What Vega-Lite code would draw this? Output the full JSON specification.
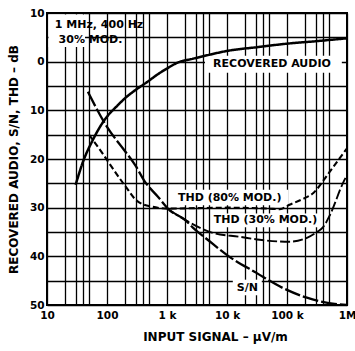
{
  "$schema": "https://vega.github.io/schema/vega-lite/v6.json",
  "width": 300,
  "height": 292,
  "autosize": {"type": "none"},
  "padding": {"left": 47, "top": 13, "right": 8, "bottom": 46},
  "background": "white",
  "config": {
    "view": {"stroke": "black", "strokeWidth": 2},
    "font": "DejaVu Sans"
  },
  "datasets": {
    "curves": [
      {"series": "Recovered audio", "signal": 30, "db": 25.3},
      {"series": "Recovered audio", "signal": 40, "db": 20.5},
      {"series": "Recovered audio", "signal": 58, "db": 16.1},
      {"series": "Recovered audio", "signal": 80, "db": 13.0},
      {"series": "Recovered audio", "signal": 100, "db": 11.3},
      {"series": "Recovered audio", "signal": 150, "db": 9.0},
      {"series": "Recovered audio", "signal": 200, "db": 7.5},
      {"series": "Recovered audio", "signal": 300, "db": 5.8},
      {"series": "Recovered audio", "signal": 464, "db": 4.2},
      {"series": "Recovered audio", "signal": 700, "db": 2.6},
      {"series": "Recovered audio", "signal": 1000, "db": 1.4},
      {"series": "Recovered audio", "signal": 1500, "db": 0.2},
      {"series": "Recovered audio", "signal": 2700, "db": -0.6},
      {"series": "Recovered audio", "signal": 5000, "db": -1.4},
      {"series": "Recovered audio", "signal": 10000, "db": -2.2},
      {"series": "Recovered audio", "signal": 33000, "db": -3.0},
      {"series": "Recovered audio", "signal": 100000, "db": -3.7},
      {"series": "Recovered audio", "signal": 300000, "db": -4.2},
      {"series": "Recovered audio", "signal": 1000000, "db": -4.8},
      {"series": "S/N", "signal": 48, "db": 6.2},
      {"series": "S/N", "signal": 100, "db": 13.4},
      {"series": "S/N", "signal": 200, "db": 18.4},
      {"series": "S/N", "signal": 293, "db": 21.2},
      {"series": "S/N", "signal": 430, "db": 24.7},
      {"series": "S/N", "signal": 700, "db": 27.7},
      {"series": "S/N", "signal": 1100, "db": 30.5},
      {"series": "S/N", "signal": 2000, "db": 32.5},
      {"series": "S/N", "signal": 2700, "db": 34.1},
      {"series": "S/N", "signal": 5000, "db": 36.8},
      {"series": "S/N", "signal": 11000, "db": 40.1},
      {"series": "S/N", "signal": 31000, "db": 43.4},
      {"series": "S/N", "signal": 85000, "db": 46.5},
      {"series": "S/N", "signal": 215000, "db": 48.5},
      {"series": "S/N", "signal": 500000, "db": 49.6},
      {"series": "S/N", "signal": 1000000, "db": 50},
      {"series": "THD (80% MOD.)", "signal": 50, "db": 15.0},
      {"series": "THD (80% MOD.)", "signal": 86, "db": 19.0},
      {"series": "THD (80% MOD.)", "signal": 112, "db": 21.1},
      {"series": "THD (80% MOD.)", "signal": 200, "db": 25.5},
      {"series": "THD (80% MOD.)", "signal": 316, "db": 28.6},
      {"series": "THD (80% MOD.)", "signal": 560, "db": 29.8},
      {"series": "THD (80% MOD.)", "signal": 1100, "db": 30.2},
      {"series": "THD (80% MOD.)", "signal": 3000, "db": 30.1},
      {"series": "THD (80% MOD.)", "signal": 11000, "db": 30.0},
      {"series": "THD (80% MOD.)", "signal": 50000, "db": 30.2},
      {"series": "THD (80% MOD.)", "signal": 76000, "db": 30.3},
      {"series": "THD (80% MOD.)", "signal": 110000, "db": 29.4},
      {"series": "THD (80% MOD.)", "signal": 200000, "db": 28.0},
      {"series": "THD (80% MOD.)", "signal": 275000, "db": 27.0},
      {"series": "THD (80% MOD.)", "signal": 400000, "db": 24.5},
      {"series": "THD (80% MOD.)", "signal": 600000, "db": 21.5},
      {"series": "THD (80% MOD.)", "signal": 1000000, "db": 17.8},
      {"series": "THD (30% MOD.)", "signal": 1100, "db": 30.5},
      {"series": "THD (30% MOD.)", "signal": 2000, "db": 32.5},
      {"series": "THD (30% MOD.)", "signal": 5800, "db": 35.2},
      {"series": "THD (30% MOD.)", "signal": 16600, "db": 36.0},
      {"series": "THD (30% MOD.)", "signal": 35000, "db": 36.6},
      {"series": "THD (30% MOD.)", "signal": 110000, "db": 37.0},
      {"series": "THD (30% MOD.)", "signal": 215000, "db": 36.2},
      {"series": "THD (30% MOD.)", "signal": 316000, "db": 35.0},
      {"series": "THD (30% MOD.)", "signal": 400000, "db": 34.0},
      {"series": "THD (30% MOD.)", "signal": 520000, "db": 31.5},
      {"series": "THD (30% MOD.)", "signal": 860000, "db": 24.9},
      {"series": "THD (30% MOD.)", "signal": 1000000, "db": 23.3}
    ],
    "boxes": [
      {"signal": 10.6, "signal2": 43, "db": -9.7, "db2": -3.0},
      {"signal": 4300, "signal2": 820000, "db": -1.2, "db2": 2.3},
      {"signal": 1500, "signal2": 105000, "db": 26.3, "db2": 29.5},
      {"signal": 5600, "signal2": 330000, "db": 31.2, "db2": 34.0},
      {"signal": 12500, "signal2": 38000, "db": 44.8, "db2": 48.0}
    ],
    "notes": [
      {"text": "1 MHz, 400 Hz", "signal": 73.6, "db": -7.5},
      {"text": "30% MOD.", "signal": 53, "db": -4.5},
      {"text": "RECOVERED AUDIO", "signal": 56200, "db": 0.5},
      {"text": "THD (80% MOD.)", "signal": 11100, "db": 28.0},
      {"text": "THD (30% MOD.)", "signal": 43900, "db": 32.5},
      {"text": "S/N", "signal": 21900, "db": 46.5}
    ]
  },
  "encoding": {
    "x": {
      "field": "signal",
      "type": "quantitative",
      "scale": {"type": "log", "domain": [10, 1000000], "nice": false},
      "axis": {
        "title": "INPUT SIGNAL – μV/m",
        "values": [10, 20, 30, 40, 50, 100, 200, 300, 400, 500, 1000, 2000, 3000, 4000, 5000, 10000, 20000, 30000, 40000, 50000, 100000, 200000, 300000, 400000, 500000, 1000000],
        "labelExpr": "datum.value == 10 ? '10' : datum.value == 100 ? '100' : datum.value == 1000 ? '1 k' : datum.value == 10000 ? '10 k' : datum.value == 100000 ? '100 k' : datum.value == 1000000 ? '1M' : ''",
        "grid": true,
        "gridColor": "black",
        "gridOpacity": 1,
        "gridWidth": 1.3,
        "ticks": false,
        "domain": false,
        "labelFlush": false,
        "labelOverlap": false,
        "labelFont": "DejaVu Sans",
        "labelFontWeight": "bold",
        "labelFontSize": 10.5,
        "labelColor": "black",
        "labelPadding": 5,
        "titleFont": "DejaVu Sans",
        "titleFontWeight": "bold",
        "titleFontSize": 12,
        "titleColor": "black",
        "titlePadding": 11,
        "titleX": 168
      }
    },
    "y": {
      "field": "db",
      "type": "quantitative",
      "scale": {"domain": [-10, 50], "reverse": true, "nice": false, "zero": false},
      "axis": {
        "title": "RECOVERED AUDIO, S/N, THD – dB",
        "values": [-10, -5, 0, 5, 10, 15, 20, 25, 30, 35, 40, 45, 50],
        "labelExpr": "datum.value % 10 == 0 ? '' + abs(datum.value) : ''",
        "grid": true,
        "gridColor": "black",
        "gridOpacity": 1,
        "gridWidth": 1.3,
        "ticks": false,
        "domain": false,
        "labelFlush": false,
        "labelOverlap": false,
        "labelFont": "DejaVu Sans",
        "labelFontWeight": "bold",
        "labelFontSize": 10.5,
        "labelColor": "black",
        "labelPadding": 3,
        "titleFont": "DejaVu Sans",
        "titleFontWeight": "bold",
        "titleFontSize": 12,
        "titleColor": "black",
        "titlePadding": 9
      }
    }
  },
  "layer": [
    {
      "data": {"name": "boxes"},
      "mark": {"type": "rect", "fill": "white", "stroke": null},
      "encoding": {
        "x2": {"field": "signal2"},
        "y2": {"field": "db2"}
      }
    },
    {
      "data": {"name": "curves"},
      "mark": {"type": "line", "color": "black", "interpolate": "monotone"},
      "encoding": {
        "detail": {"field": "series"},
        "strokeDash": {
          "field": "series",
          "type": "nominal",
          "scale": {
            "domain": ["Recovered audio", "S/N", "THD (80% MOD.)", "THD (30% MOD.)"],
            "range": [[1, 0], [16, 3], [6, 3], [10, 3]]
          },
          "legend": null
        },
        "strokeWidth": {
          "field": "series",
          "type": "nominal",
          "scale": {
            "domain": ["Recovered audio", "S/N", "THD (80% MOD.)", "THD (30% MOD.)"],
            "range": [2.5, 1.9, 1.8, 1.8]
          },
          "legend": null
        }
      }
    },
    {
      "data": {"name": "notes"},
      "mark": {"type": "text", "font": "DejaVu Sans", "fontWeight": "bold", "fontSize": 11, "color": "black", "align": "center", "baseline": "middle"},
      "encoding": {
        "text": {"field": "text"}
      }
    }
  ]
}
